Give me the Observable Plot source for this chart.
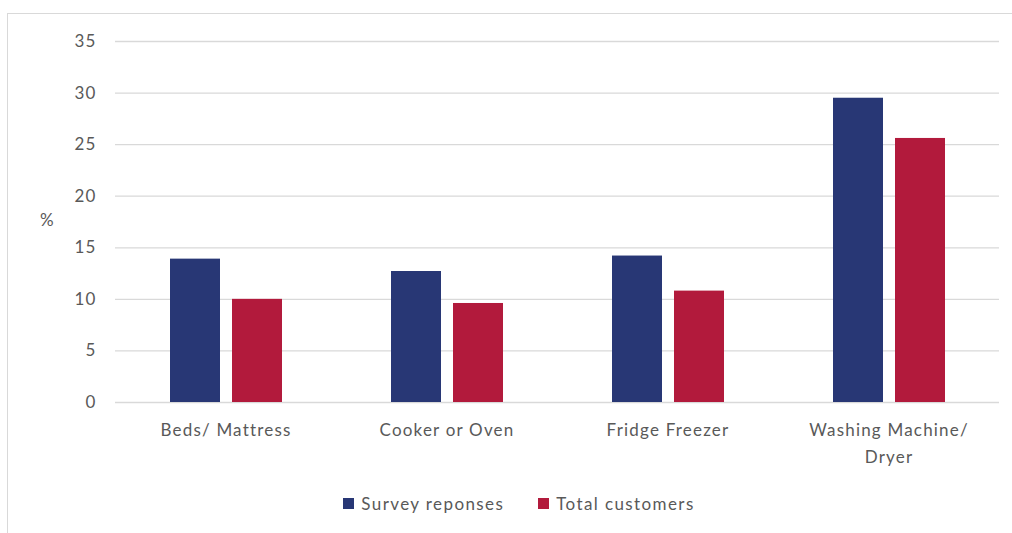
<!DOCTYPE html>
<html>
<head>
<meta charset="utf-8">
<script src="https://cdn.jsdelivr.net/npm/d3@7"></script>
<script src="https://cdn.jsdelivr.net/npm/@observablehq/plot@0.6"></script>
<style>
  html, body { margin: 0; padding: 0; background: #fff; }
  body { width: 1012px; height: 533px; overflow: hidden; position: relative; font-family: Lato, "Open Sans", sans-serif; color: #595959; }
  #frame { position: absolute; left: 7px; top: 13px; width: 1010px; height: 540px; border-left: 1.5px solid #d9d9d9; border-top: 1.5px solid #d9d9d9; box-sizing: border-box; }
  #chart { position: absolute; left: 0; top: 0; }
  #ylab { position: absolute; left: 40px; top: 209px; font-size: 17px; letter-spacing: 1px; }
  #legend { position: absolute; top: 493px; left: 0; width: 1038px; display: flex; justify-content: center; gap: 34px; font-size: 17px; letter-spacing: 1.4px; }
  #legend .item { display: flex; align-items: center; gap: 7px; }
  #legend .sw { width: 11px; height: 11px; display: inline-block; }
</style>
</head>
<body>
<div id="frame"></div>
<div id="chart"></div>
<div id="ylab">%</div>
<div id="legend"></div>
<script>
const categories = ["Beds/ Mattress", "Cooker or Oven", "Fridge Freezer", "Washing Machine/\nDryer"];
const seriesNames = ["Survey reponses", "Total customers"];
const surveyValues = [13.9, 12.7, 14.2, 29.5];
const totalValues = [10.0, 9.6, 10.8, 25.6];
const yTicks = [0, 5, 10, 15, 20, 25, 30, 35];
const colors = ["#283775", "#b21a3c"];

const data = [];
categories.forEach((c, i) => {
  data.push({category: c, series: seriesNames[0], value: surveyValues[i]});
  data.push({category: c, series: seriesNames[1], value: totalValues[i]});
});

const chart = Plot.plot({
  width: 1012,
  height: 472,
  marginLeft: 113,
  marginRight: 12,
  marginTop: 41,
  marginBottom: 70,
  style: {fontFamily: "Lato, 'Open Sans', sans-serif", fontSize: "17px", letterSpacing: "1.2px", color: "#595959", background: "transparent"},
  fx: {domain: categories, padding: 0, label: null, axis: null},
  x: {domain: seriesNames, paddingInner: 0.2, paddingOuter: 0.88, axis: null},
  y: {domain: [0, 35], label: null, ticks: yTicks},
  color: {domain: seriesNames, range: colors},
  marks: [
    Plot.gridY(yTicks, {stroke: "#d9d9d9", strokeOpacity: 1, strokeWidth: 1.3}),
    Plot.axisY(yTicks, {tickSize: 0, tickPadding: 19, label: null, fill: "#595959"}),
    Plot.axisFx({anchor: "bottom", tickSize: 0, tickPadding: 14, label: null, lineHeight: 1.6, fill: "#595959"}),
    Plot.barY(data, {fx: "category", x: "series", y: "value", fill: "series"})
  ]
});
document.getElementById("chart").appendChild(chart);

const legend = document.getElementById("legend");
seriesNames.forEach((s, i) => {
  const item = document.createElement("div");
  item.className = "item";
  const sw = document.createElement("span");
  sw.className = "sw";
  sw.style.background = colors[i];
  const t = document.createElement("span");
  t.textContent = s;
  item.appendChild(sw);
  item.appendChild(t);
  legend.appendChild(item);
});
</script>
</body>
</html>
